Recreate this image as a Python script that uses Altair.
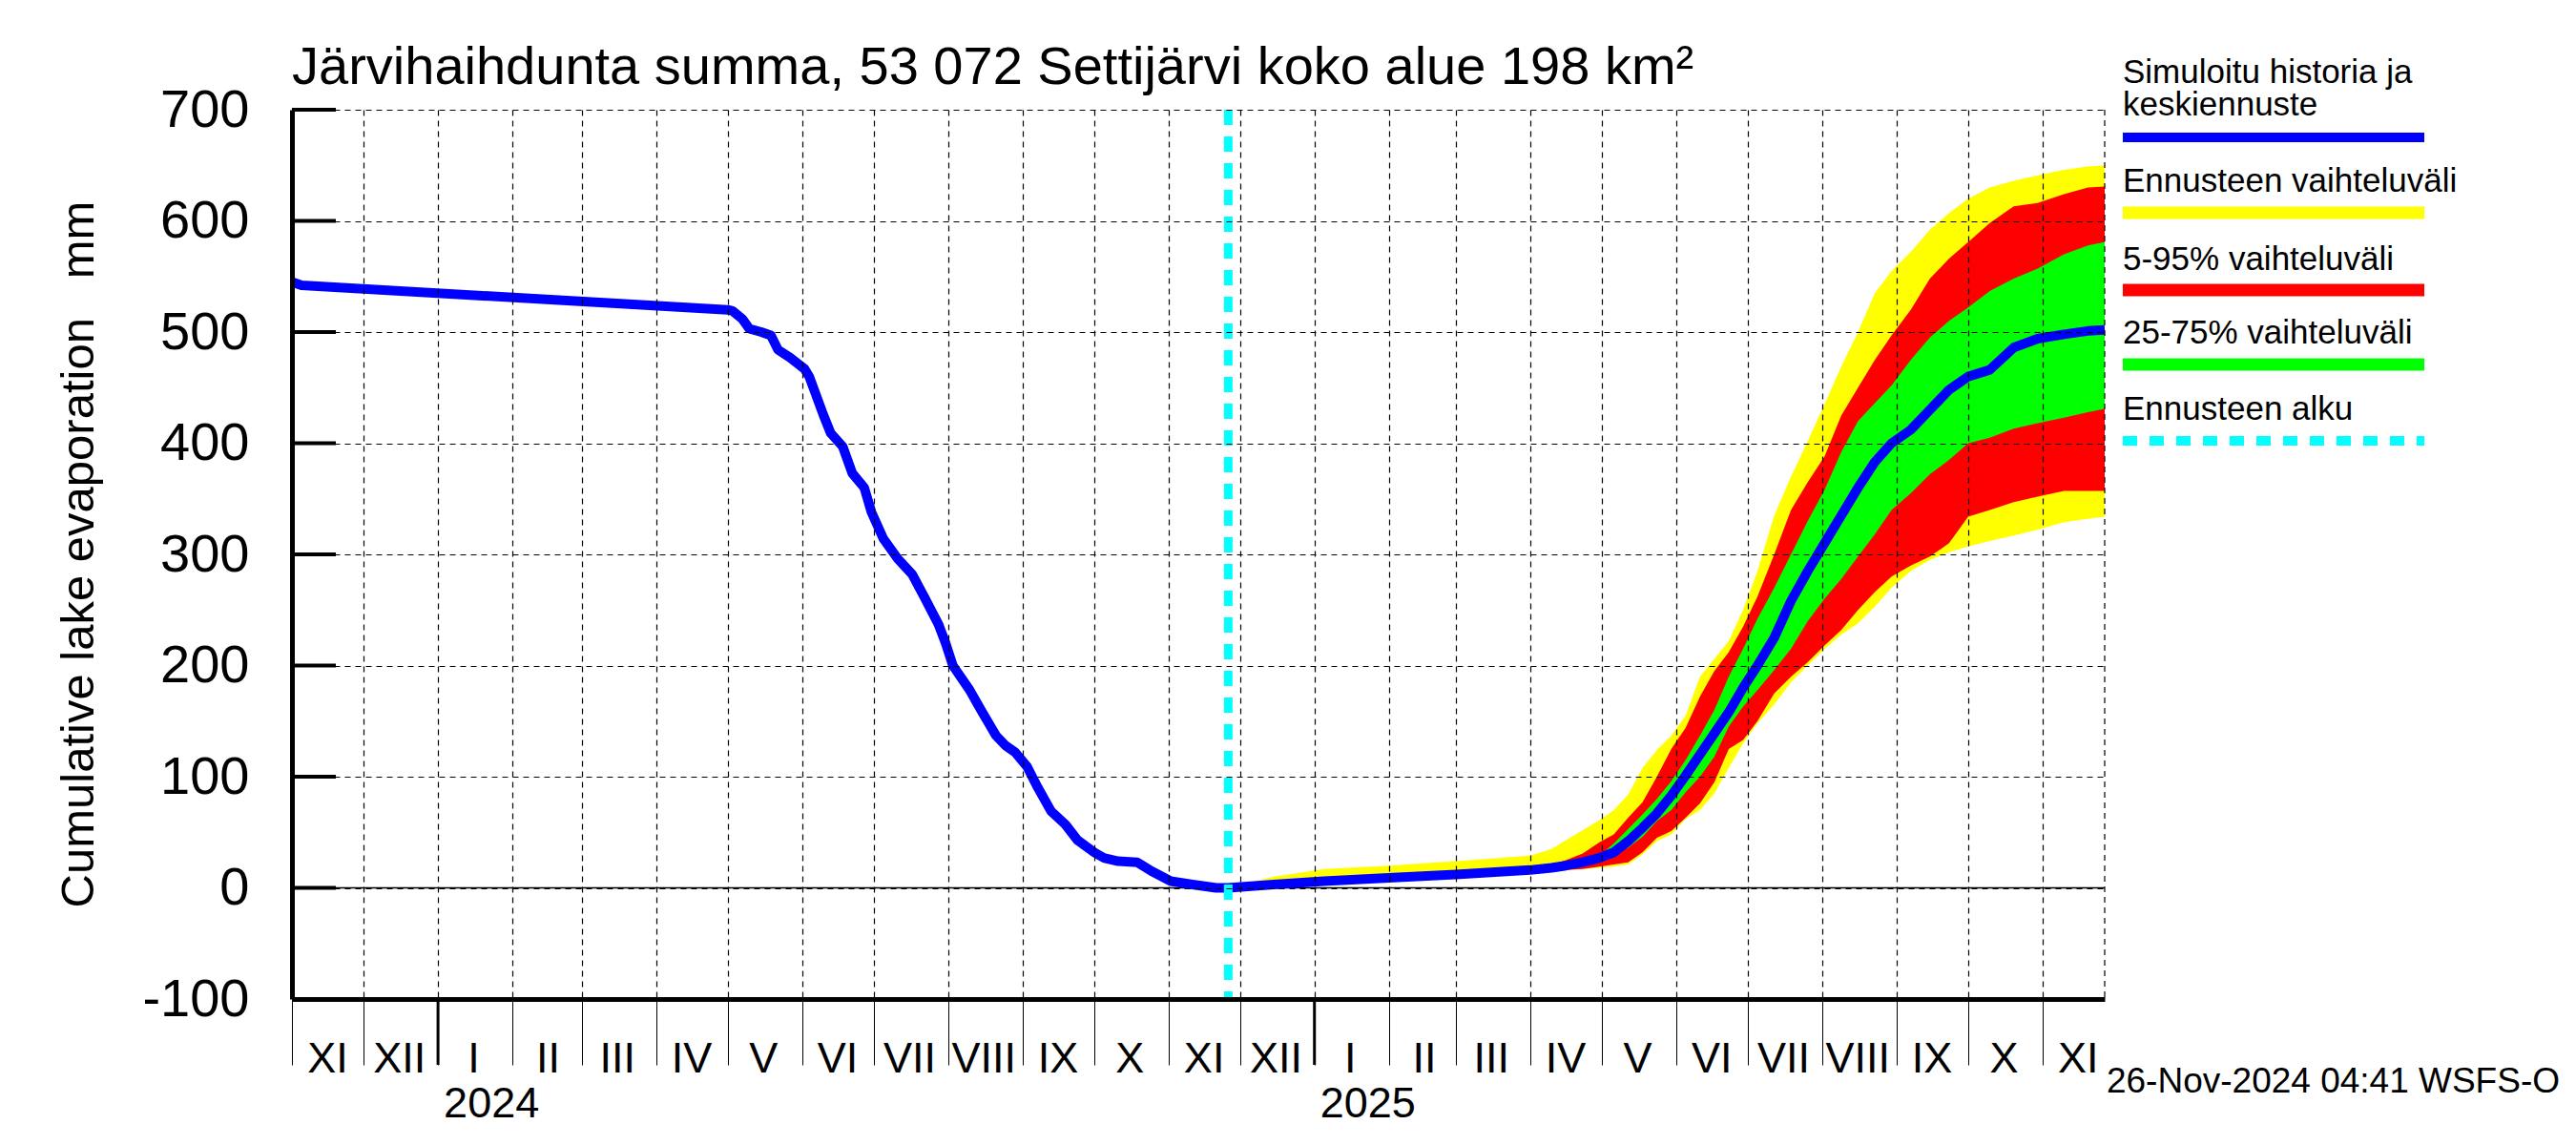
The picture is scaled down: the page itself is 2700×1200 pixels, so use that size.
import altair as alt
import pandas as pd

# ---------------- data ----------------
hist_dates = ["2023-11-01", "2023-11-05", "2024-05-01", "2024-05-03", "2024-05-07", "2024-05-10",
              "2024-05-15", "2024-05-19", "2024-05-22", "2024-05-27", "2024-06-02", "2024-06-04",
              "2024-06-10", "2024-06-13", "2024-06-18", "2024-06-22", "2024-06-27", "2024-06-30",
              "2024-07-05", "2024-07-11", "2024-07-17", "2024-07-22", "2024-07-28", "2024-07-31",
              "2024-08-03", "2024-08-10", "2024-08-15", "2024-08-21", "2024-08-25", "2024-08-29",
              "2024-09-03", "2024-09-07", "2024-09-13", "2024-09-19", "2024-09-24", "2024-10-01",
              "2024-10-05", "2024-10-11", "2024-10-19", "2024-10-25", "2024-11-02", "2024-11-11",
              "2024-11-21", "2024-11-26"]
hist_vals = [545, 542, 520, 519, 512, 503,
             500, 497, 484, 477, 467, 460,
             425, 409, 397, 373, 360, 338,
             314, 296, 282, 262, 237, 220,
             200, 178, 159, 137, 128, 122,
             109, 92, 69, 57, 43, 32,
             27, 24, 23, 15, 6, 3,
             0, 0]

fc_dates = ["2024-11-26", "2024-12-15", "2025-01-05", "2025-02-01", "2025-03-01", "2025-04-01",
            "2025-04-10", "2025-04-16", "2025-04-23", "2025-04-30", "2025-05-06", "2025-05-12",
            "2025-05-18", "2025-05-24", "2025-05-30", "2025-06-05", "2025-06-11", "2025-06-17",
            "2025-06-23", "2025-06-29", "2025-07-05", "2025-07-12", "2025-07-19", "2025-07-26",
            "2025-08-02", "2025-08-09", "2025-08-16", "2025-08-23", "2025-08-30", "2025-09-07",
            "2025-09-15", "2025-09-23", "2025-10-01", "2025-10-10", "2025-10-20", "2025-10-30",
            "2025-11-10", "2025-11-20", "2025-11-27"]
fc_max = [0, 10, 17, 20, 24, 29, 35, 43, 52, 61, 70, 84, 108, 124, 137, 155, 190, 206, 222, 250,
          285, 335, 370, 402, 435, 469, 500, 535, 555, 572, 592, 607, 620, 630, 636, 641, 646, 649, 650]
fc_p95 = [0, 3, 7, 10, 14, 17, 21, 25, 31, 41, 48, 63, 77, 100, 125, 144, 172, 195, 212, 235,
          262, 300, 340, 365, 388, 425, 450, 475, 497, 520, 548, 566, 581, 598, 613, 616, 624, 630, 631]
fc_p75 = [0, 3, 6, 9, 13, 16, 19, 21, 24, 29, 40, 53, 66, 80, 96, 115, 137, 160, 190, 215,
          242, 270, 300, 330, 358, 392, 420, 436, 452, 475, 495, 510, 522, 537, 548, 557, 570, 578, 581]
fc_med = [0, 3, 6, 9, 12, 16, 18, 20, 23, 27, 32, 42, 54, 67, 83, 101, 120, 139, 158, 180,
          200, 225, 258, 285, 310, 335, 360, 383, 400, 412, 430, 448, 460, 466, 486, 494, 498, 501, 502]
fc_p25 = [0, 3, 6, 9, 12, 15, 17, 19, 21, 25, 30, 36, 46, 60, 70, 86, 100, 118, 145, 163,
          178, 196, 215, 240, 260, 278, 298, 318, 340, 355, 372, 385, 400, 405, 413, 418, 423, 428, 431]
fc_p5 = [0, 3, 5, 8, 11, 14, 15, 16, 17, 19, 21, 23, 32, 45, 51, 63, 76, 95, 125, 133,
         150, 175, 190, 203, 218, 232, 250, 266, 280, 290, 298, 310, 334, 340, 347, 352, 357, 357, 357]
fc_min = [0, 2, 5, 8, 11, 14, 15, 16, 17, 18, 19, 21, 30, 42, 48, 62, 70, 85, 108, 130,
          148, 165, 185, 200, 215, 228, 238, 253, 270, 285, 295, 302, 307, 312, 317, 322, 329, 332, 334]

month_names = ["I", "II", "III", "IV", "V", "VI", "VII", "VIII", "IX", "X", "XI", "XII"]
year_starts = ["2024-01-01", "2025-01-01"]
year_labels = ["2024", "2025"]
forecast_start = ["2024-11-26"]
y_ticks = [-100, 0, 100, 200, 300, 400, 500, 600, 700]

title_text = "Järvihaihdunta summa, 53 072 Settijärvi koko alue 198 km²"
y_title = "Cumulative lake evaporation \u00a0\u00a0mm"
footer = "26-Nov-2024 04:41 WSFS-O"
legend_texts = ["Simuloitu historia ja", "keskiennuste", "Ennusteen vaihteluväli",
                "5-95% vaihteluväli", "25-75% vaihteluväli", "Ennusteen alku"]

# ---------------- tables ----------------
hist = pd.DataFrame({"date": hist_dates, "value": hist_vals})
fc = pd.DataFrame({"date": fc_dates, "vmax": fc_max, "p95": fc_p95, "p75": fc_p75,
                   "med": fc_med, "p25": fc_p25, "p5": fc_p5, "vmin": fc_min})
line_df = pd.concat([hist, pd.DataFrame({"date": fc_dates, "value": fc_med})], ignore_index=True)
years_df = pd.DataFrame({"date": year_starts, "label": year_labels})
fstart_df = pd.DataFrame({"date": forecast_start})
yt_df = pd.DataFrame({"v": y_ticks})
one = pd.DataFrame({"a": [0]})

W, H = 1900, 932
SANS = "Liberation Sans, Arial, Helvetica"

month_expr = "[" + ",".join("'%s'" % m for m in month_names) + "][utcmonth(datum.value)]"

x_scale = alt.Scale(type="utc", domain=[alt.DateTime(year=2023, month=11, date=1, utc=True),
                                        alt.DateTime(year=2025, month=11, date=27, utc=True)])
x_axis = alt.Axis(title=None, labelExpr=month_expr, tickCount={"interval": "month", "step": 1},
                  grid=True, gridColor="black", gridDash=[6, 5], gridWidth=1.2,
                  domainColor="black", domainWidth=5, tickColor="black", tickWidth=1, tickSize=69,
                  labelFont=SANS, labelFontSize=45, labelColor="black", labelBaseline="alphabetic",
                  labelPadding=7, labelOffset=37, labelAlign="center", labelFlush=False,
                  labelOverlap=False, zindex=1)
y_scale = alt.Scale(domain=[-100, 700], nice=False, zero=False)
y_axis = alt.Axis(title=None, values=y_ticks, labelExpr="'' + datum.value", grid=True,
                  gridColor="black", gridDash=[6, 5], gridWidth=1.2, domainColor="black",
                  domainWidth=5, ticks=False, labelFont=SANS, labelFontSize=56, labelColor="black",
                  labelPadding=45, zindex=1)


def X(field="date"):
    return alt.X(field + ":T", scale=x_scale, axis=x_axis)


def Y(field):
    return alt.Y(field + ":Q", scale=y_scale, axis=y_axis)


yellow = alt.Chart(fc).mark_area(color="#FFFF00", opacity=1).encode(x=X(), y=Y("vmax"), y2="vmin:Q")
red = alt.Chart(fc).mark_area(color="#FF0000", opacity=1).encode(x=X(), y=Y("p95"), y2="p5:Q")
green = alt.Chart(fc).mark_area(color="#00FF00", opacity=1).encode(x=X(), y=Y("p75"), y2="p25:Q")

zero_rule = alt.Chart(pd.DataFrame({"v": [0]})).mark_rule(color="black", strokeWidth=1.5).encode(y=Y("v"))

blue = alt.Chart(line_df).mark_line(color="#0000FF", strokeWidth=10, strokeJoin="round").encode(
    x=X(), y=Y("value"))

cyan = alt.Chart(fstart_df).mark_rule(color="#00FFFF", strokeWidth=9, strokeDash=[16, 12]).encode(
    x=X(), y=alt.value(0), y2=alt.value(H))

ytick_rules = alt.Chart(yt_df).mark_rule(color="black", strokeWidth=4).encode(
    y=Y("v"), x=alt.value(0), x2=alt.value(46))

year_rules = alt.Chart(years_df).mark_rule(color="black", strokeWidth=3).encode(
    x=X(), y=alt.value(H), y2=alt.value(H + 69))
year_text = alt.Chart(years_df).mark_text(font=SANS, fontSize=45, align="left", baseline="alphabetic",
                                          dx=6, color="black").encode(
    x=X(), y=alt.value(H + 124), text="label:N")

right_border = alt.Chart(one).mark_rule(color="black", strokeWidth=1.2, strokeDash=[6, 5]).encode(
    x=alt.value(W), y=alt.value(0), y2=alt.value(H))


def txt(s, x, y, size, font=SANS, align="left", angle=0, baseline="alphabetic"):
    kw = dict(text=s, font=font, fontSize=size, align=align, baseline=baseline, color="black")
    if angle:
        kw["angle"] = angle
    return alt.Chart(one).mark_text(**kw).encode(x=alt.value(x), y=alt.value(y))


def sw(color, y, width, dash=None):
    kw = dict(color=color, strokeWidth=width)
    if dash:
        kw["strokeDash"] = dash
    return alt.Chart(one).mark_rule(**kw).encode(x=alt.value(1919), x2=alt.value(2235), y=alt.value(y))


texts = [
    txt(title_text, 0, -27, 56),
    txt(y_title, -223, H / 2, 49, align="center", angle=270, baseline="middle"),
    txt(footer, 2377, 1030, 37, align="right"),
    txt(legend_texts[0], 1919, -28, 35),
    txt(legend_texts[1], 1919, 6, 35),
    sw("#0000FF", 29, 10),
    txt(legend_texts[2], 1919, 86, 35),
    sw("#FFFF00", 108, 13),
    txt(legend_texts[3], 1919, 168, 35),
    sw("#FF0000", 189, 13),
    txt(legend_texts[4], 1919, 245, 35),
    sw("#00FF00", 267, 13),
    txt(legend_texts[5], 1919, 325, 35),
    sw("#00FFFF", 347, 10, [15, 13]),
]

chart = alt.layer(yellow, red, green, zero_rule, blue, cyan, ytick_rules, year_rules, year_text,
                  right_border, *texts).properties(
    width=W, height=H,
    autosize=alt.AutoSizeParams(type="none"),
    padding={"left": 298, "top": 107, "right": 480, "bottom": 140},
).configure(font="Liberation Sans").configure_view(stroke=None)

chart.save("out.html", embed_options={"renderer": "svg", "actions": False})
